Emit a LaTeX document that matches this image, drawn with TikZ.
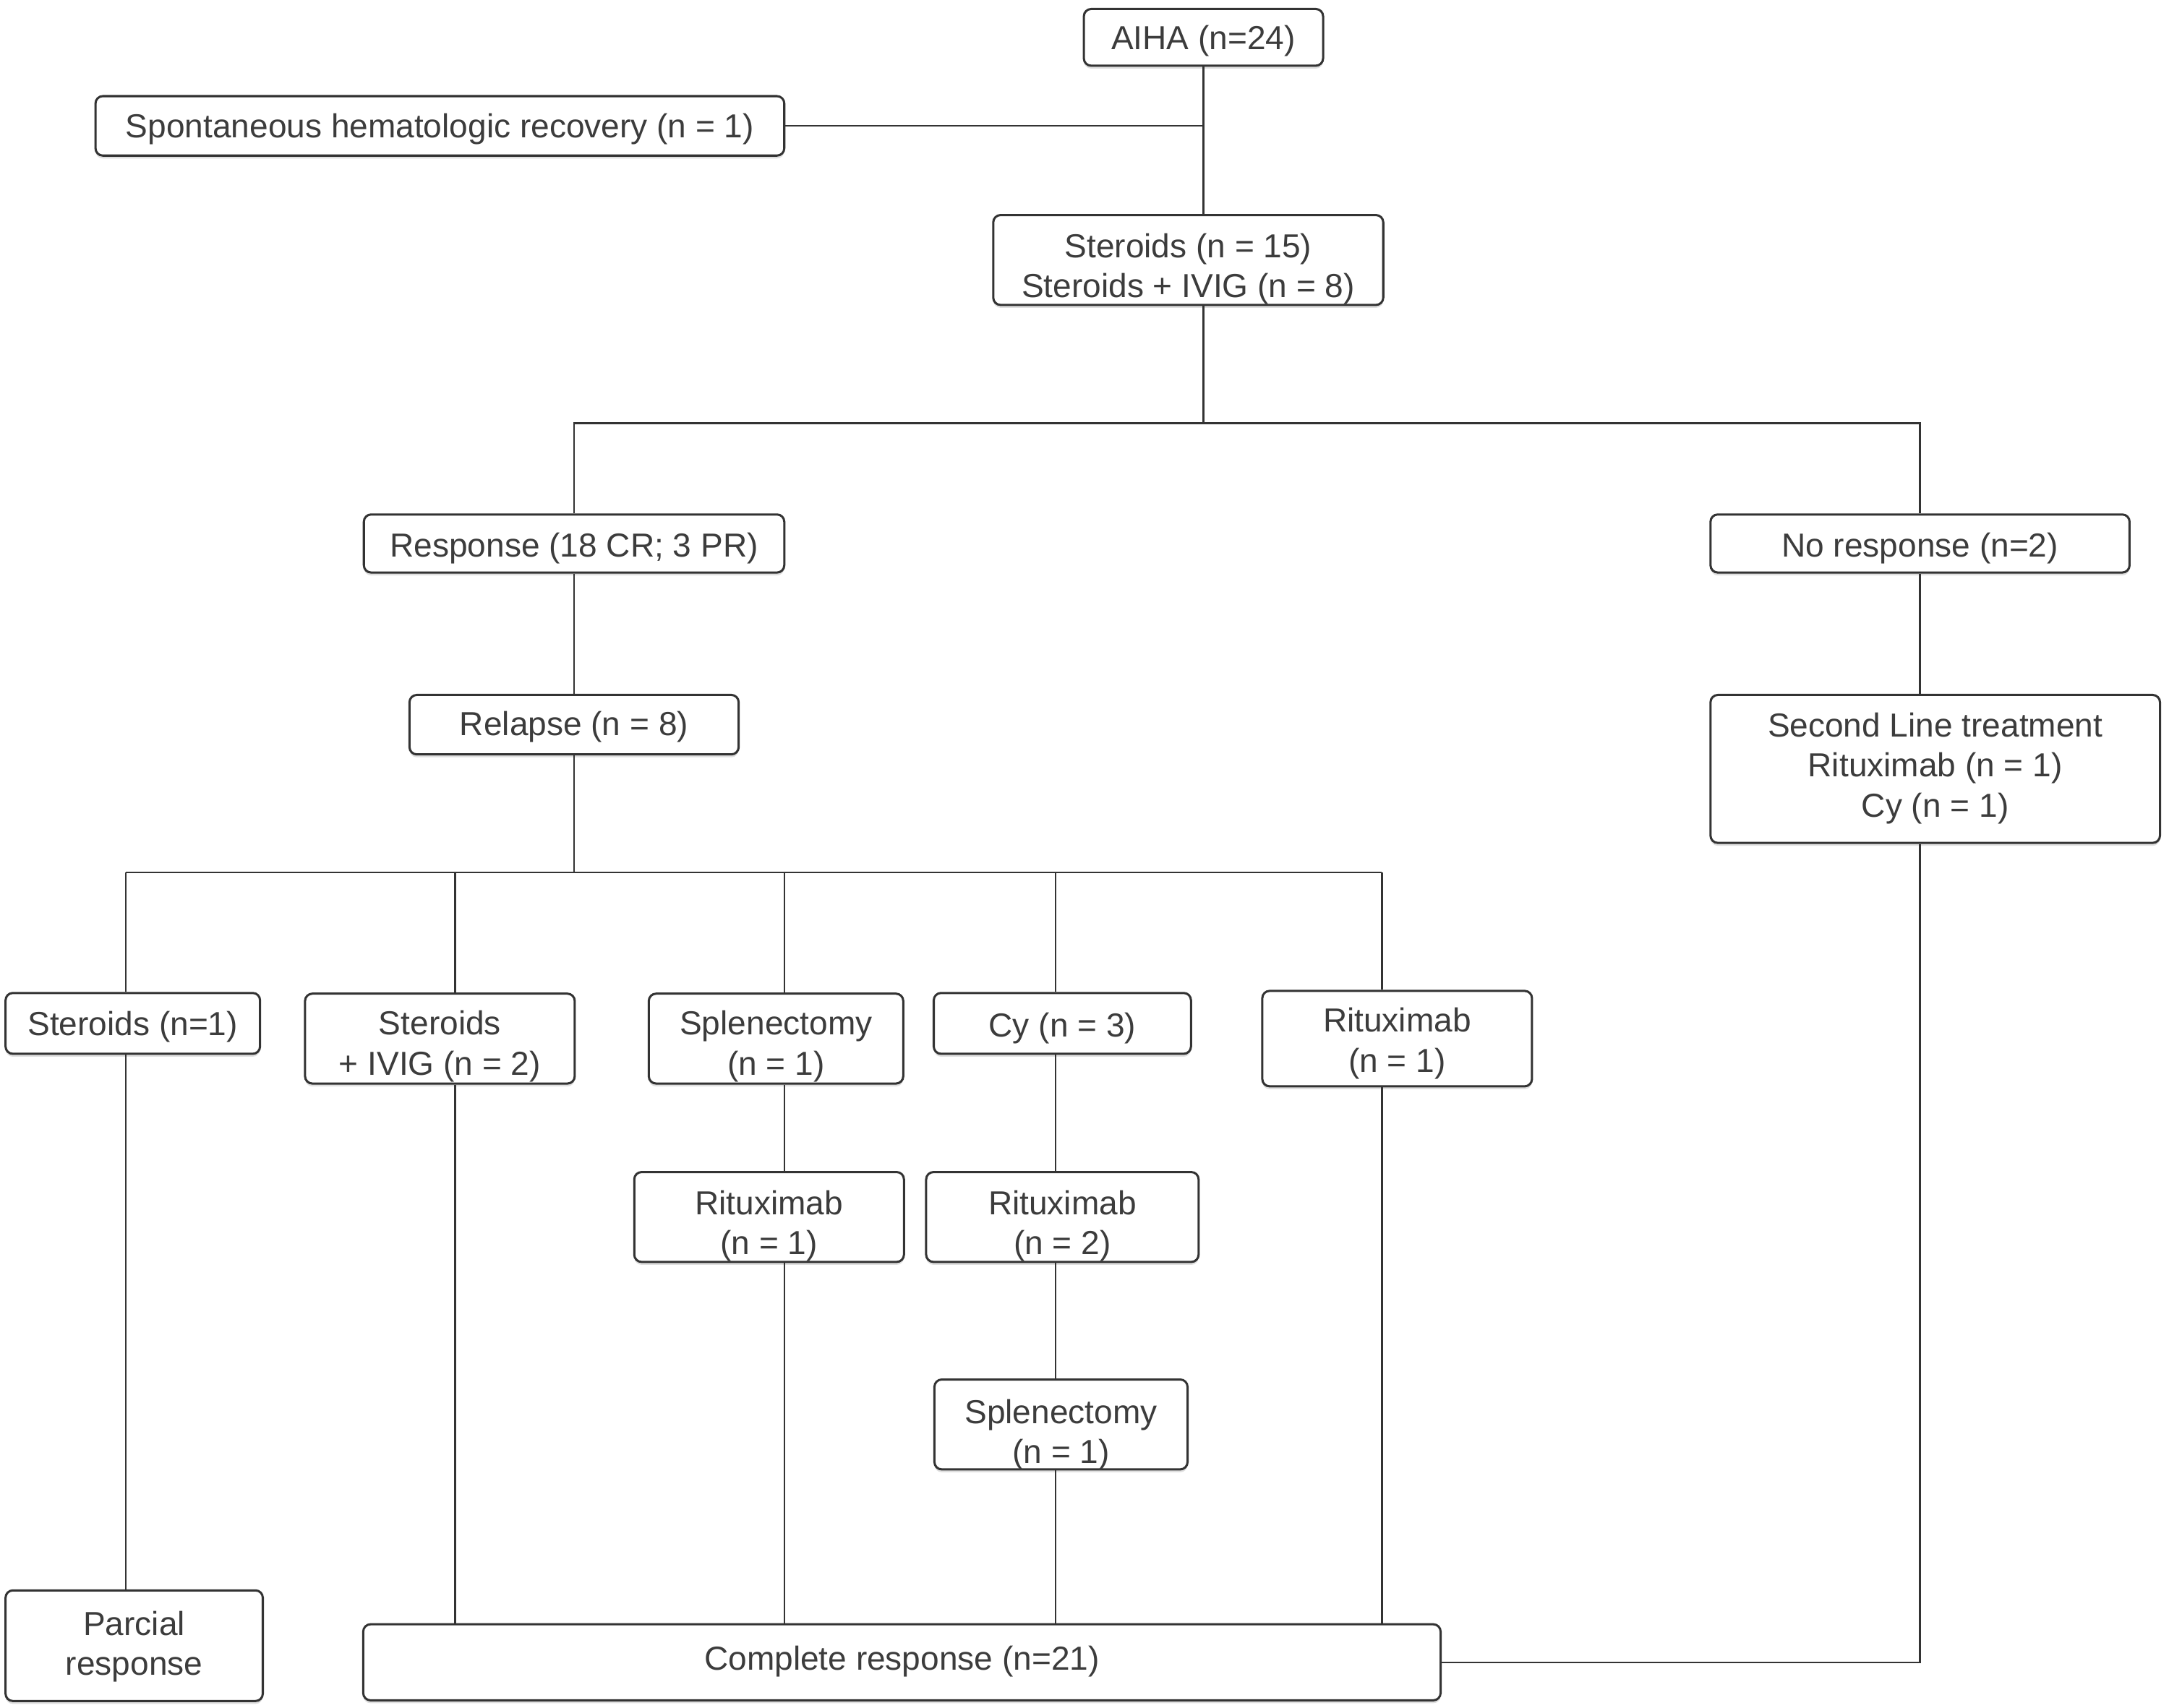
\documentclass[tikz,border=0pt]{standalone}
\usepackage{fontspec}
\setmainfont{Liberation Sans}
\usepackage{xcolor}
\usetikzlibrary{shadows}
\definecolor{linegray}{HTML}{333333}
\definecolor{textgray}{HTML}{3C3C3C}
% text lowered inside its box, box size kept
\newcommand{\boxtext}[2]{\raisebox{-#1}[\height][\depth]{\begin{tabular}{@{}c@{}}#2\end{tabular}}}
\tikzset{
  box/.style={draw=linegray,line width=0.9pt,rounded corners=3pt,fill=white,
    align=center,inner sep=0pt,text=textgray,
    font=\fontsize{13.7}{16.5}\selectfont,
    drop shadow={shadow xshift=0pt,shadow yshift=-1.2pt,opacity=0.25}},
  link/.style={draw=linegray,line width=0.7pt}
}
\begin{document}
\begin{tikzpicture}[x=0.02cm,y=-0.02cm]
        \useasboundingbox (0,0) rectangle (1568,1235);
        % first line
        \node [box,minimum width=3.46cm,minimum height=0.82cm] (aiha) at (870,27) {\boxtext{1.7pt}{AIHA (n=24)}};
        \node [box,minimum width=9.96cm,minimum height=0.86cm] (spont) at (318,91) {\boxtext{1.7pt}{Spontaneous hematologic recovery (n = 1)}};
        \node [box,minimum width=5.64cm,minimum height=1.30cm] (ster) at (859,188) {\boxtext{4pt}{Steroids (n = 15)\\Steroids + IVIG (n = 8)}};
        \node [box,minimum width=6.08cm,minimum height=0.84cm] (resp) at (415,393) {\boxtext{2.3pt}{Response (18 CR; 3 PR)}};
        \node [box,minimum width=6.06cm,minimum height=0.84cm] (nores) at (1388,393) {\boxtext{2.3pt}{No response (n=2)}};
        \node [box,minimum width=4.76cm,minimum height=0.86cm] (relap) at (415,524) {\boxtext{1.1pt}{Relapse (n = 8)}};
        \node [box,minimum width=6.50cm,minimum height=2.14cm] (second) at (1399,556) {\boxtext{0pt}{Second Line treatment\\Rituximab (n = 1)\\Cy (n = 1)}};
        % after relapse
        \node [box,minimum width=3.68cm,minimum height=0.88cm] (sta) at (96,740) {\boxtext{1.7pt}{Steroids (n=1)}};
        \node [box,minimum width=3.90cm,minimum height=1.30cm] (stb) at (318,751) {\boxtext{3.4pt}{Steroids\\+ IVIG (n = 2)}};
        \node [box,minimum width=3.68cm,minimum height=1.30cm] (spla) at (561,751) {\boxtext{3.4pt}{Splenectomy\\(n = 1)}};
        \node [box,minimum width=3.72cm,minimum height=0.88cm] (cya) at (768,740) {\boxtext{2.3pt}{Cy (n = 3)}};
        \node [box,minimum width=3.90cm,minimum height=1.38cm] (rita) at (1010,751) {\boxtext{2.3pt}{Rituximab\\(n = 1)}};
        \node [box,minimum width=3.90cm,minimum height=1.30cm] (ritb) at (556,880) {\boxtext{4pt}{Rituximab\\(n = 1)}};
        \node [box,minimum width=3.94cm,minimum height=1.30cm] (ritc) at (768,880) {\boxtext{4pt}{Rituximab\\(n = 2)}};
        \node [box,minimum width=3.66cm,minimum height=1.30cm] (splb) at (767,1030) {\boxtext{4.6pt}{Splenectomy\\(n = 1)}};
        % outcome
        \node [box,minimum width=3.72cm,minimum height=1.60cm] (parc) at (97,1190) {\boxtext{0.6pt}{Parcial\\response}};
        \node [box,minimum width=15.58cm,minimum height=1.10cm] (comp) at (652,1202) {\boxtext{0pt}{Complete response (n=21)}};

        \coordinate (top) at (870,306);
        \coordinate (mid) at (415,631);
        \foreach \n/\x in {1/91,2/329,3/567,4/763,5/999} {
            \coordinate (d\n) at (\x,631);
        }

        \draw [link] (aiha.south) -- (aiha.south |- ster.north);
        \draw [link] (spont.east) -- (spont.east -| aiha.south);
        \draw [link] (top |- ster.south) -- (top);
        \draw [link] (resp.north) |- (top) -| (nores.north);
        \draw [link] (resp.south) -- (relap.north);
        \draw [link] (nores.south) -- (nores.south |- second.north);
        \draw [link] (relap.south) -- (mid);
        \draw [link] (d1) -- (d5);
        \foreach \n/\b in {1/sta,2/stb,3/spla,4/cya,5/rita} {
            \draw [link] (d\n) -- (d\n |- \b.north);
        }
        \draw [link] (d1 |- sta.south) -- (d1 |- parc.north);
        \draw [link] (d2 |- stb.south) -- (d2 |- comp.north);
        \draw [link] (d3 |- spla.south) -- (d3 |- ritb.north);
        \draw [link] (d3 |- ritb.south) -- (d3 |- comp.north);
        \draw [link] (d4 |- cya.south) -- (d4 |- ritc.north);
        \draw [link] (d4 |- ritc.south) -- (d4 |- splb.north);
        \draw [link] (d4 |- splb.south) -- (d4 |- comp.north);
        \draw [link] (d5 |- rita.south) -- (d5 |- comp.north);
        \draw [link] (nores.south |- second.south) |- (comp.east);
\end{tikzpicture}
\end{document}
